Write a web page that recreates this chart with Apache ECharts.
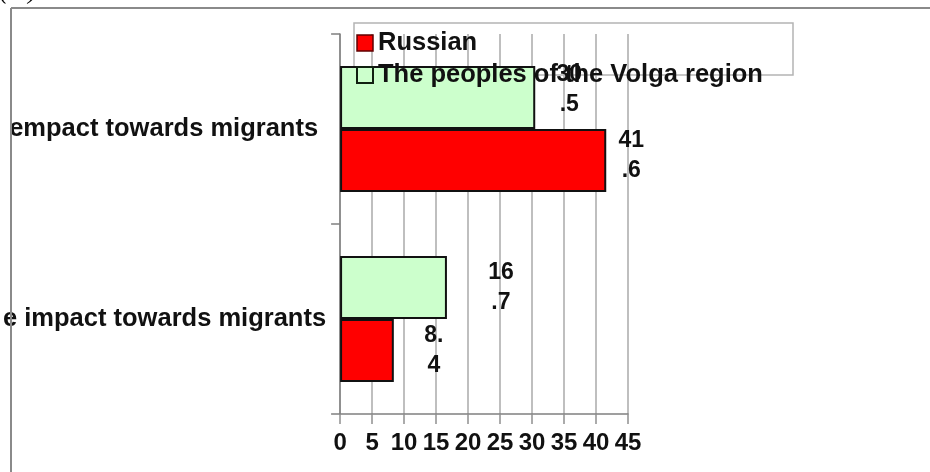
<!DOCTYPE html>
<html>
<head>
<meta charset="utf-8">
<script src="https://cdn.jsdelivr.net/npm/echarts@6/dist/echarts.min.js"></script>
<style>
  html, body { margin: 0; padding: 0; background: #fff; }
  #chart { width: 930px; height: 472px; }
</style>
</head>
<body>
<div id="chart"></div>
<script>
// Category rows, listed bottom to top
const categories = ['e impact towards migrants', 'empact towards migrants'];
const seriesNames = ['Russian', 'The peoples of the Volga region'];
const russianValues = [8.4, 41.6];
const volgaValues = [16.7, 30.5];
const xTicks = [0, 5, 10, 15, 20, 25, 30, 35, 40, 45];

// Value labels wrap into two-character lines, e.g. "41.6" -> "41" / ".6"
function wrapValue(v) {
  const s = String(v);
  const parts = [];
  for (let i = 0; i < s.length; i += 2) parts.push(s.slice(i, i + 2));
  return parts.join('\n');
}

const FONT = 'Liberation Sans, Arial, sans-serif';
const labelBase = {
  show: true,
  position: 'right',
  align: 'center',
  verticalAlign: 'middle',
  fontFamily: FONT,
  fontWeight: 'bold',
  fontSize: 23,
  lineHeight: 30,
  color: '#111',
  formatter: p => wrapValue(p.value)
};

const chart = echarts.init(document.getElementById('chart'), null, { renderer: 'canvas' });

chart.setOption({
  animation: false,
  backgroundColor: '#fff',
  grid: { left: 339, right: 302, top: 34, bottom: 58, containLabel: false },
  xAxis: {
    type: 'value',
    min: xTicks[0],
    max: xTicks[xTicks.length - 1],
    interval: 5,
    axisLine: { show: true, lineStyle: { color: '#808080', width: 1.5 } },
    axisTick: { show: true, length: 10, lineStyle: { color: '#909090', width: 1.5 } },
    splitLine: { show: true, lineStyle: { color: '#aaaaaa', width: 1.5 } },
    axisLabel: {
      fontFamily: FONT, fontWeight: 'bold', fontSize: 24, color: '#111', margin: 17
    }
  },
  yAxis: {
    type: 'category',
    data: categories,
    axisLine: { show: true, lineStyle: { color: '#808080', width: 1.5 } },
    axisTick: { show: true, length: 9, lineStyle: { color: '#808080', width: 1.5 } },
    axisLabel: {
      fontFamily: FONT, fontWeight: 'bold', fontSize: 25, color: '#111', margin: 14,
      formatter: (v, i) => i === 1 ? '{a|' + v + '}' : '{b|' + v + '}',
      rich: {
        a: { fontFamily: FONT, fontWeight: 'bold', fontSize: 25.5, color: '#111', padding: [0, 8, 0, 0] },
        b: { fontFamily: FONT, fontWeight: 'bold', fontSize: 25.5, color: '#111' }
      }
    }
  },
  legend: {
    orient: 'vertical',
    left: 356,
    top: 30,
    icon: 'rect',
    itemWidth: 16,
    itemHeight: 16,
    itemGap: 6,
    padding: 0,
    data: [
      { name: seriesNames[0], itemStyle: { color: '#ff0000', borderColor: '#600000', borderWidth: 1.5 } },
      { name: seriesNames[1], itemStyle: { color: '#ccffcc', borderColor: '#102010', borderWidth: 2 } }
    ],
    textStyle: { fontFamily: FONT, fontWeight: 'bold', fontSize: 25.5, color: '#111', padding: [0, 0, 0, 0] },
    z: 10
  },
  graphic: [
    // outer frame
    { type: 'line', shape: { x1: 11, y1: 8, x2: 930, y2: 8 }, style: { stroke: '#8a8a8a', lineWidth: 2 }, silent: true },
    { type: 'line', shape: { x1: 11, y1: 8, x2: 11, y2: 472 }, style: { stroke: '#8a8a8a', lineWidth: 2 }, silent: true, z: 100 },
    // unit caption, clipped at the top edge
    { type: 'text', left: 0, top: -19, style: { text: '(%)', font: 'italic 24px "Liberation Serif", serif', fill: '#000' }, silent: true },
    // legend frame
    { type: 'rect', shape: { x: 354, y: 23, width: 439, height: 52 }, style: { fill: 'none', stroke: '#b4b4b4', lineWidth: 1.5 }, silent: true, z: 1 }
  ],
  series: [
    {
      name: seriesNames[1],
      type: 'bar',
      data: [
        { value: volgaValues[0], label: { distance: 54 } },
        { value: volgaValues[1], label: { distance: 34, offset: [0, -8] } }
      ],
      barWidth: 63,
      barGap: '0%',
      itemStyle: { color: '#ccffcc', borderColor: '#111', borderWidth: 2 },
      label: labelBase,
      z: 3
    },
    {
      name: seriesNames[0],
      type: 'bar',
      data: [
        { value: russianValues[0], label: { distance: 40 } },
        { value: russianValues[1], label: { distance: 25, offset: [0, -5] } }
      ],
      barWidth: 63,
      barGap: '0%',
      itemStyle: { color: '#ff0000', borderColor: '#111', borderWidth: 2 },
      label: labelBase,
      z: 3
    }
  ]
});
</script>
</body>
</html>
